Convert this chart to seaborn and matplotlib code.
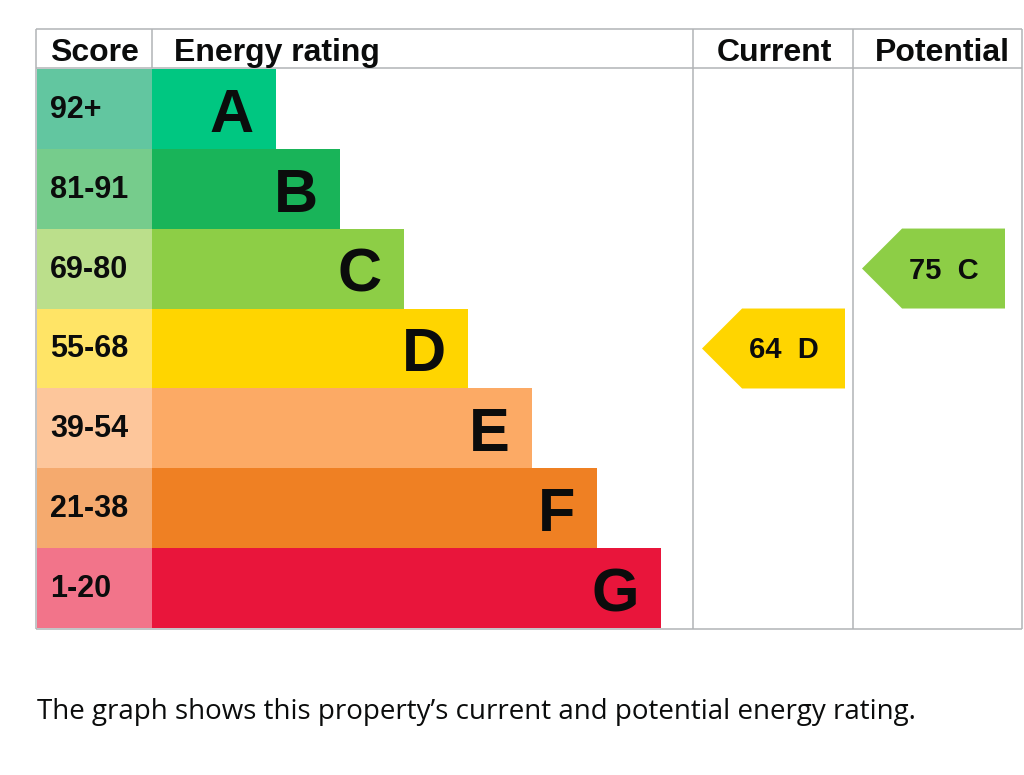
import matplotlib
matplotlib.use("Agg")
import matplotlib.pyplot as plt
from matplotlib.patches import Polygon
import seaborn as sns

# ---- data ----
ratings = ["A", "B", "C", "D", "E", "F", "G"]
score_ranges = ["92+", "81-91", "69-80", "55-68", "39-54", "21-38", "1-20"]
band_min = [92, 81, 69, 55, 39, 21, 1]
bar_lengths = [124, 188, 252, 316, 380, 445, 509]
bar_colors = ["#00c781", "#19b459", "#8dce46", "#ffd500", "#fcaa65", "#ef8023", "#e9153b"]
score_colors = ["#62c6a0", "#76cc8c", "#bbdf8b", "#ffe466", "#fdc69b", "#f5aa6e", "#f2748a"]
current_score = 64
potential_score = 75
headers = ["Score", "Energy rating", "Current", "Potential"]
caption = "The graph shows this property\u2019s current and potential energy rating."

# ---- layout (pixels) ----
W, H = 1024, 775
table_left, table_right = 36, 1022
table_top, header_bottom, table_bottom = 29, 68, 629
score_right = 152
cur_col = (693, 853)
pot_col = (853, 1022)
grid_color = "#b1b4b6"
grid_lw = 1.1
ink = "#0b0c0c"

sns.set_theme(style="white")
plt.rcParams["font.family"] = ["Liberation Sans", "DejaVu Sans"]

fig = plt.figure(figsize=(W / 100, H / 100), dpi=100)
fig.patch.set_facecolor("white")

# overlay axes in pixel coordinates for grid and headers (drawn beneath the rows)
ov = fig.add_axes([0, 0, 1, 1])
ov.set_xlim(0, W)
ov.set_ylim(H, 0)
ov.axis("off")
ov.patch.set_alpha(0)
kw = dict(color=grid_color, lw=grid_lw, solid_capstyle="butt")
ov.plot([table_left, table_right], [table_top, table_top], **kw)
ov.plot([table_left, table_right], [header_bottom, header_bottom], **kw)
ov.plot([table_left, table_right], [table_bottom, table_bottom], **kw)
ov.plot([table_left, table_left], [table_top, table_bottom], **kw)
ov.plot([score_right, score_right], [table_top, header_bottom], **kw)
for x in (cur_col[0], pot_col[0], table_right):
    ov.plot([x, x], [table_top, table_bottom], **kw)

hdr_y = 61
ov.text(50, hdr_y, headers[0], ha="left", va="baseline", fontsize=23, fontweight="bold", color=ink)
ov.text(174, hdr_y, headers[1], ha="left", va="baseline", fontsize=23, fontweight="bold", color=ink)
ov.text(774, hdr_y, headers[2], ha="center", va="baseline", fontsize=23, fontweight="bold", color=ink)
ov.text(942, hdr_y, headers[3], ha="center", va="baseline", fontsize=23, fontweight="bold", color=ink)

ov.text(37, 719, caption, ha="left", va="baseline", fontsize=20, color=ink,
        family=["Open Sans", "DejaVu Sans"])

# main axes covering the rating rows; x in pixels measured from score column edge
ax = fig.add_axes([table_left / W + 0.0005, (H - table_bottom + 0.6) / H, 1, (table_bottom - header_bottom - 0.6) / H])
ax.set_position([0, (H - table_bottom + 0.6) / H, 1, (table_bottom - header_bottom - 1.2) / H])
ax.patch.set_alpha(0)
sns.barplot(x=bar_lengths, y=ratings, hue=ratings, palette=bar_colors, order=ratings,
            hue_order=ratings, width=1.0, saturation=1, legend=False, ax=ax,
            edgecolor="none", linewidth=0)
ax.set_xlim(-score_right, W - score_right)
ax.set_ylim(len(ratings) - 0.5, -0.5)
ax.axis("off")

row_px = (table_bottom - header_bottom) / len(ratings)
score_w = score_right - table_left - 1
ax.barh(range(len(ratings)), score_w, left=-score_w, height=1.0, color=score_colors, linewidth=0)

for i, (r, s, L) in enumerate(zip(ratings, score_ranges, bar_lengths)):
    ax.text(L - 22, i + 23 / row_px, r, ha="right", va="baseline", fontsize=44,
            fontweight="bold", color=ink)
    ax.text(-score_right + 50, i + 9 / row_px, s, ha="left", va="baseline", fontsize=22,
            fontweight="bold", color=ink)


def band_of(score):
    for i, m in enumerate(band_min):
        if score >= m:
            return i
    return len(band_min) - 1


def draw_arrow(score, col):
    i = band_of(score)
    tip = col[0] + 9 - score_right
    right = tip + 143
    half = 0.5
    notch = row_px * half
    poly = Polygon([(tip, i), (tip + notch, i - half), (right, i - half),
                    (right, i + half), (tip + notch, i + half)], closed=True,
                   facecolor=bar_colors[i], edgecolor="none")
    ax.add_patch(poly)
    ax.text(tip + 82, i + 10 / row_px, f"{score}  {ratings[i]}", ha="center", va="baseline",
            fontsize=21, fontweight="bold", color=ink)


draw_arrow(current_score, cur_col)
draw_arrow(potential_score, pot_col)

fig.savefig("out.png", dpi=100, facecolor="white")
